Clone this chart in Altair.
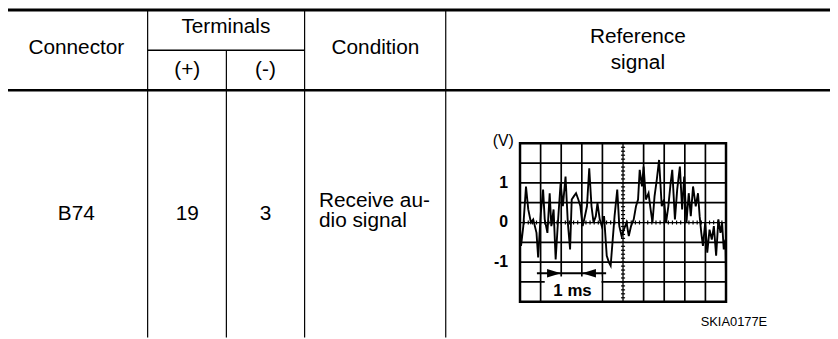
import altair as alt
import pandas as pd
import numpy as np

# ---------------- table content ----------------
col_headers = ["Connector", "Terminals", "Condition", "Reference\nsignal"]
sub_headers = ["(+)", "(-)"]
row_connector = "B74"
row_plus = "19"
row_minus = "3"
row_condition = "Receive au-\ndio signal"
figure_code = "SKIA0177E"

# ---------------- oscilloscope content ----------------
time_ms = [0.00, 0.05, 0.16, 0.29, 0.40, 0.53, 0.64, 0.80, 0.88, 1.01, 1.12, 1.20,
           1.33, 1.44, 1.52, 1.63, 1.73, 1.84, 1.97, 2.08, 2.21, 2.32, 2.43, 2.51,
           2.61, 2.72, 2.83, 2.93, 3.04, 3.15, 3.25, 3.36, 3.47, 3.57, 3.68, 3.76,
           3.87, 3.97, 4.08, 4.21, 4.32, 4.40, 4.50, 4.59, 4.72, 4.82, 4.93, 5.04,
           5.17, 5.28, 5.39, 5.52, 5.63, 5.73, 5.81, 5.92, 6.00, 6.11, 6.24, 6.32,
           6.43, 6.53, 6.64, 6.75, 6.88, 6.99, 7.09, 7.20, 7.31, 7.39, 7.52, 7.63,
           7.76, 7.87, 7.97, 8.08, 8.19, 8.29, 8.40, 8.53, 8.64, 8.72, 8.80, 8.88,
           8.99, 9.09, 9.20, 9.31, 9.41, 9.52, 9.63, 9.73, 9.81, 9.89, 9.97, 10.00]
volts = [-0.18, -0.59, -0.09, 0.91, 0.33, 0.00, 0.08, -0.26, -0.88, 0.24, 0.83, 0.08,
         -0.26, 0.74, -0.09, 0.33, -0.93, 0.00, 0.99, 0.41, 1.16, 0.00, -0.68, 0.58,
         0.66, 0.74, 0.58, 0.41, -0.09, 0.16, 0.41, 1.37, 0.41, 0.00, 0.16, 0.49,
         0.08, -0.09, 0.16, -0.84, -1.01, -1.09, -0.43, 0.16, 0.83, -0.09, -0.34, -0.18,
         0.00, -0.34, -0.09, 0.08, 0.41, 0.58, 1.33, 0.91, 1.41, 0.58, 0.74, 0.41,
         0.00, 0.66, 1.08, 1.58, 0.41, 0.58, 0.00, 0.41, 0.99, 1.33, 0.08, 0.83,
         1.41, 0.33, 1.16, 0.00, 0.74, 0.16, 0.91, 0.41, 0.74, 0.16, -0.26, -0.59,
         0.00, -0.76, -0.18, -0.43, -0.09, -0.84, 0.08, -0.26, 0.00, -0.68, -0.43, -1.34]
volt_ticks = [1, 0, -1]
volt_tick_labels = ["1", "0", "-1"]
unit_label = "(V)"
scale_label = "1 ms"

FONT = "Liberation Sans"
one = alt.Data(values=[{}])

xs = alt.Scale(domain=[0, 10], range=[517, 725], nice=False, zero=False)
ys = alt.Scale(domain=[-2, 2], range=[295, 135], nice=False, zero=False)


def X(f):
    return alt.X(f, type="quantitative", scale=xs, axis=None)


def X2(f):
    return alt.X2(f)


def Y(f):
    return alt.Y(f, type="quantitative", scale=ys, axis=None)


def Y2(f):
    return alt.Y2(f)


layers = []


# ---------------- table rules ----------------
def hrule(y, x1, x2, w):
    return alt.Chart(one).mark_rule(color="black", strokeWidth=w).encode(
        x=alt.value(x1), x2=alt.value(x2), y=alt.value(y))


def vrule(x, y1, y2, w=1.2):
    return alt.Chart(one).mark_rule(color="black", strokeWidth=w).encode(
        x=alt.value(x), y=alt.value(y1), y2=alt.value(y2))


layers += [
    hrule(0.5, 0, 830, 3),
    hrule(81.5, 0, 830, 2.5),
    hrule(41, 141, 299.5, 1.5),
    vrule(141, 1, 331),
    vrule(220.5, 41, 331),
    vrule(299.5, 1, 331),
    vrule(442, 1, 331),
]


def txt(text, x, y, size=21, align="center", weight="normal", lh=None):
    kw = dict(text=text, font=FONT, fontSize=size, align=align, baseline="middle",
              fontWeight=weight, color="black")
    if "\n" in text:
        kw["lineBreak"] = "\n"
        kw["lineHeight"] = lh or 24
    return alt.Chart(one).mark_text(**kw).encode(x=alt.value(x), y=alt.value(y))


layers += [
    txt(col_headers[0], 69, 39),
    txt(col_headers[1], 220, 18),
    txt(sub_headers[0], 181, 61),
    txt(sub_headers[1], 260, 61),
    txt(col_headers[2], 371, 39),
    txt(col_headers[3], 636, 28, lh=26),
    txt(row_connector, 69, 206),
    txt(row_plus, 181, 206),
    txt(row_minus, 260, 206),
    txt(row_condition, 314, 193, align="left", lh=21),
    txt(figure_code, 733, 315, size=13),
]

# ---------------- oscilloscope ----------------
grid_t = pd.DataFrame({"t": [1, 2, 3, 4, 6, 7, 8, 9], "v0": -2, "v1": 2})
grid_v = pd.DataFrame({"v": [-1.5, -1, -0.5, 0.5, 1, 1.5], "t0": 0, "t1": 10})
layers.append(alt.Chart(grid_t).mark_rule(color="black", strokeWidth=1.7).encode(
    x=X("t"), y=Y("v0"), y2=Y2("v1")))
layers.append(alt.Chart(grid_v).mark_rule(color="black", strokeWidth=1.7).encode(
    y=Y("v"), x=X("t0"), x2=X2("t1")))

# centre cross lines with minor ticks
center = pd.DataFrame({"t": [5], "v0": [-2], "v1": [2]})
layers.append(alt.Chart(center).mark_rule(color="black", strokeWidth=1.3).encode(
    x=X("t"), y=Y("v0"), y2=Y2("v1")))
center_h = pd.DataFrame({"v": [0], "t0": [0], "t1": [10]})
layers.append(alt.Chart(center_h).mark_rule(color="black", strokeWidth=1.3).encode(
    y=Y("v"), x=X("t0"), x2=X2("t1")))
vt = np.round(np.arange(-2, 2.001, 0.1), 2)
ticks_v = pd.DataFrame({"v": vt, "t0": 4.9, "t1": 5.1})
layers.append(alt.Chart(ticks_v).mark_rule(color="black", strokeWidth=1.2).encode(
    y=Y("v"), x=X("t0"), x2=X2("t1")))
ht = np.round(np.arange(0, 10.001, 0.2), 2)
ticks_h = pd.DataFrame({"t": ht, "v0": -0.05, "v1": 0.05})
layers.append(alt.Chart(ticks_h).mark_rule(color="black", strokeWidth=1.2).encode(
    x=X("t"), y=Y("v0"), y2=Y2("v1")))

# waveform
wave = pd.DataFrame({"t": time_ms, "v": volts})
layers.append(alt.Chart(wave).mark_line(color="black", strokeWidth=1.9,
                                        strokeJoin="miter").encode(
    x=X("t"), y=Y("v")))

# "1 ms" box, arrow and label
box = pd.DataFrame({"t0": [1.2], "t1": [3.95], "v0": [-1.98], "v1": [-1.36]})
layers.append(alt.Chart(box).mark_rect(color="white").encode(
    x=X("t0"), x2=X2("t1"), y=Y("v0"), y2=Y2("v1")))
arrow_line = pd.DataFrame({"t0": [0.82], "t1": [4.18], "v": [-1.28]})
layers.append(alt.Chart(arrow_line).mark_rule(color="black", strokeWidth=2).encode(
    x=X("t0"), x2=X2("t1"), y=Y("v")))
heads = pd.DataFrame({"t": [1.65], "v": [-1.28]})
layers.append(alt.Chart(heads).mark_point(
    shape="M-1,-0.6L1,0L-1,0.6Z", filled=True, color="black", size=196, opacity=1).encode(
    x=X("t"), y=Y("v")))
heads2 = pd.DataFrame({"t": [3.35], "v": [-1.28]})
layers.append(alt.Chart(heads2).mark_point(
    shape="M1,-0.6L-1,0L1,0.6Z", filled=True, color="black", size=196, opacity=1).encode(
    x=X("t"), y=Y("v")))
lab = pd.DataFrame({"t": [2.55], "v": [-1.74], "s": [scale_label]})
layers.append(alt.Chart(lab).mark_text(font=FONT, fontSize=17, fontWeight="bold",
                                       color="black", baseline="middle").encode(
    x=X("t"), y=Y("v"), text="s:N"))

# border
border = pd.DataFrame({"t0": [0], "t1": [10], "v0": [-2], "v1": [2]})
layers.append(alt.Chart(border).mark_rect(fillOpacity=0, stroke="black", strokeWidth=2.5).encode(
    x=X("t0"), x2=X2("t1"), y=Y("v0"), y2=Y2("v1")))

# axis labels
vl = pd.DataFrame({"v": volt_ticks, "s": volt_tick_labels})
layers.append(alt.Chart(vl).mark_text(font=FONT, fontSize=16, fontWeight="bold", align="right",
                                      baseline="middle", color="black").encode(
    y=Y("v"), x=alt.value(505), text="s:N"))
ul = pd.DataFrame({"v": [2], "s": [unit_label]})
layers.append(alt.Chart(ul).mark_text(font=FONT, fontSize=16, align="center", dy=-2,
                                      baseline="middle", color="black").encode(
    y=Y("v"), x=alt.value(500), text="s:N"))

chart = alt.layer(*layers).properties(
    width=830, height=331, padding=0, autosize=alt.AutoSizeParams(type="none"),
    background="white"
).configure_view(stroke=None)

chart.save("out.html", embed_options={"renderer": "svg", "actions": False})
